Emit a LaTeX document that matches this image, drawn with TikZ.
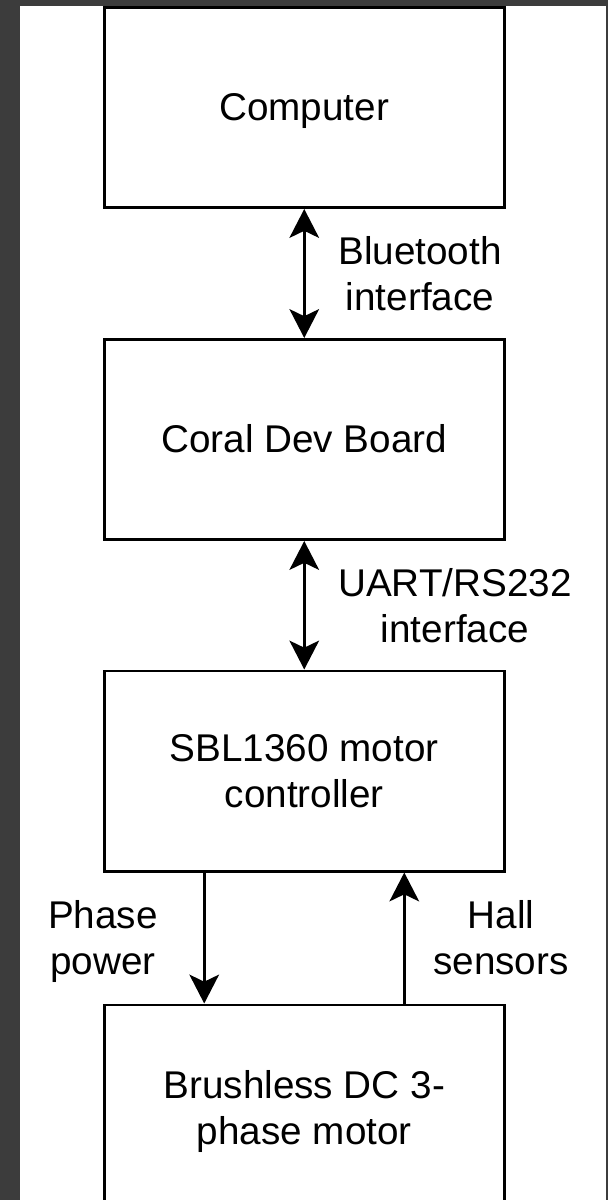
\documentclass[tikz,border=0pt]{standalone}
\usepackage{fontspec}
\setmainfont{Liberation Sans}
\usepackage{xcolor}
\usepackage{tikz}
\usetikzlibrary{arrows.meta, positioning}
\definecolor{framegray}{RGB}{60, 60, 60}

\begin{document}
\begin{tikzpicture}[
  x=0.025cm, y=-0.025cm,
  unit/.style={draw, line width=2.1pt, fill=white,
               minimum width=10cm, minimum height=5cm,
               font=\fontsize{27.5}{33}\selectfont, align=center,
               text height=24.9pt, text depth=5.8pt},
  lbl/.style={font=\fontsize{27.5}{33}\selectfont, align=center,
              text height=24.9pt, text depth=5.8pt},
  twoline/.style={text height=57.9pt},
  arrow/.style={-{Stealth[length=20.5pt, width=21pt, inset=5pt]}, line width=2.1pt},
  biarrow/.style={{Stealth[length=20.5pt, width=21pt, inset=5pt]}-{Stealth[length=20.5pt, width=21pt, inset=5pt]}, line width=2.1pt}
]
  \clip (0,0) rectangle (608,1200);
  \fill[framegray] (0,0) rectangle (608,1200);
  \fill[white] (20,6) rectangle (606,1200);

  \node[unit] (comp) at (304.25,107.5) {Computer};
  \node[unit] (coral) at (304.25,439.5) {Coral Dev Board};
  \node[unit, twoline] (sbl) at (304.25,771) {SBL1360 motor\\controller};
  \node[unit, twoline, minimum height=5.15cm] (motor) at (304.25,1108) {Brushless DC 3-\\phase motor};

  \node[lbl, twoline] (bt) at (420,274) {Bluetooth\\interface};
  \node[lbl, twoline] (uart) at (455,606) {UART/RS232\\interface};
  \node[lbl, twoline] (phase) at (103,938) {Phase\\power};
  \node[lbl, twoline] (hall) at (501,938) {Hall\\sensors};

  \draw[biarrow] (comp) -- (coral);
  \draw[biarrow] (coral) -- (sbl);
  \draw[arrow] ([xshift=-2.5cm]sbl.south) -- ([xshift=-2.5cm]motor.north);
  \draw[arrow] ([xshift=2.5cm]motor.north) -- ([xshift=2.5cm]sbl.south);
\end{tikzpicture}
\end{document}
